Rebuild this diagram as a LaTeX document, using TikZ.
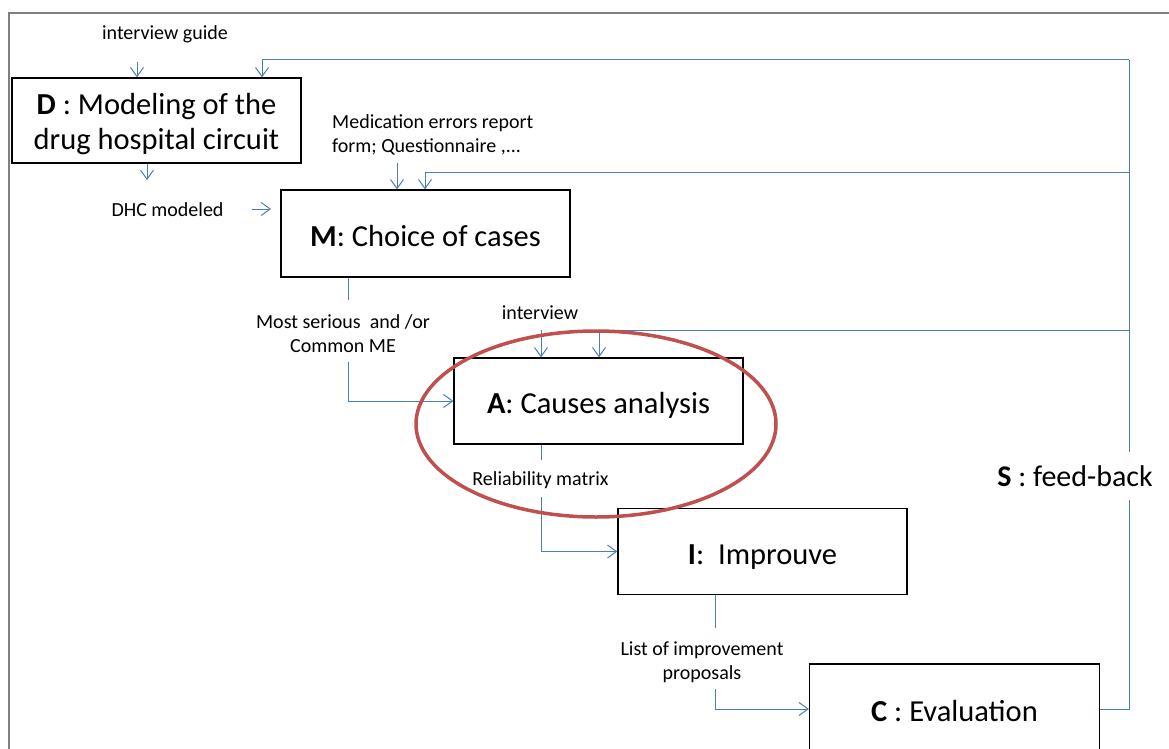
\documentclass[tikz,border=0pt]{standalone}
\usepackage{fontspec}
\setmainfont{Carlito}
\usetikzlibrary{arrows.meta}
\definecolor{fblue}{HTML}{4A7EBB}
\definecolor{ered}{HTML}{C0504D}
\definecolor{framegray}{HTML}{808080}
\begin{document}
\begin{tikzpicture}[x=1pt,y=-1pt,
  box/.style={draw=black, line width=1.3pt, inner sep=0pt, align=center,
    font=\fontsize{30.5}{35}\selectfont},
  onebox/.style={box, text height=25pt, text depth=-5pt},
  lbl/.style={inner sep=0pt, align=center, font=\fontsize{20}{24}\selectfont},
  conn/.style={draw=fblue, line width=1pt},
  arr/.style={conn, -{Straight Barb[length=9pt,width=13pt]}}]
\useasboundingbox (0,0) rectangle (1169,749);
\clip (0,0) rectangle (1169,749);
\fill[white] (0,0) rectangle (1169,749);
% frame
\draw[framegray, line width=2pt] (1200,13) -- (9,13) -- (9,800);
% boxes
\node[box, minimum width=289pt, minimum height=85pt] (D) at (156.5,120.5) {\rule{0pt}{28pt}\textbf{D} : Modeling of the\\drug hospital circuit};
\node[onebox, minimum width=289pt, minimum height=87pt] (M) at (425.5,233.5) {\textbf{M}: Choice of cases};
\node[onebox, minimum width=289pt, minimum height=86pt] (A) at (598.5,401) {\textbf{A}: Causes analysis};
\node[onebox, minimum width=289pt, minimum height=86pt] (I) at (762.5,551.5) {\textbf{I}:\ \ Improuve};
\node[onebox, minimum width=290pt, minimum height=90pt] (C) at (954.5,709) {\textbf{C} : Evaluation};
% labels
\node[lbl] (guide) at (165,34) {interview guide};
\node[lbl] (dhc) at (167.5,210) {DHC modeled};
\node[lbl, align=left, anchor=west] (med) at (332,135) {Medication errors report\\form; Questionnaire ,...};
\node[lbl] (most) at (343,334) {Most serious\ \ and /or\\Common ME};
\node[lbl] (intv) at (540,313) {interview};
\node[lbl] (rel) at (540.5,480) {Reliability matrix};
\node[lbl] (list) at (702,662) {List of improvement\\proposals};
% coordinates
\coordinate (fbtop) at (1129,60);
\coordinate (fbM) at (1129,172);
\coordinate (fbA) at (1129,330);
\coordinate (g1) at (137,62);
\coordinate (d1) at (147,180);
\coordinate (h0) at (252,209);
\coordinate (h1) at (271,209);
\coordinate (m0) at (397,163);
\coordinate (ma) at (348,300);
\coordinate (mb) at (348,362);
\coordinate (i0) at (541,330);
\coordinate (aa) at (541,460);
\coordinate (ab) at (541,497);
\coordinate (ia) at (715,628);
\coordinate (ib) at (715,689);
% connectors
\draw[conn] (C.east) -| (fbtop);
\draw[arr] (fbtop) -| (D.north -| 262,0);
\draw[arr] (fbM) -| (M.north -| 425,0);
\draw[arr] (fbA) -| (A.north -| 599,0);
\draw[arr] (g1) -- (D.north -| g1);
\draw[arr] (D.south -| d1) -- (d1);
\draw[arr] (h0) -- (h1);
\draw[arr] (m0) -- (M.north -| m0);
\draw[conn] (M.south -| ma) -- (ma);
\draw[arr] (mb) |- (A.west);
\draw[arr] (i0) -- (A.north -| i0);
\draw[conn] (A.south -| aa) -- (aa);
\draw[arr] (ab) |- (I.west);
\draw[conn] (I.south -| ia) -- (ia);
\draw[arr] (ib) |- (C.west);
% feedback label
\node[fill=white, inner xsep=1pt, inner ysep=0pt, minimum height=48pt, font=\fontsize{30}{35}\selectfont] (S) at (1075,476) {\textbf{S} : feed-back};
% highlight
\draw[ered, line width=3.5pt] (596,424) ellipse [x radius=180pt, y radius=93pt];
\end{tikzpicture}
\end{document}
